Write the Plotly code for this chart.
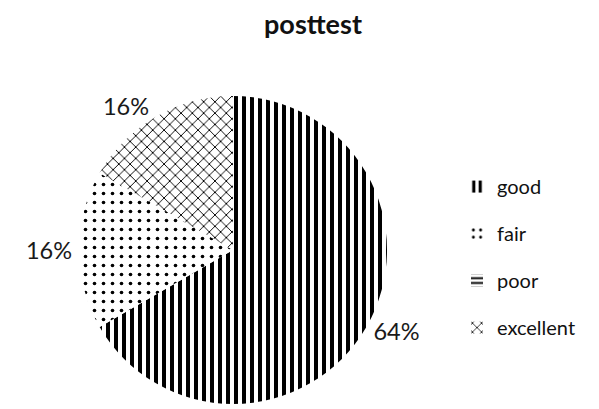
import plotly.graph_objects as go

categories = ["good", "fair", "poor", "excellent"]
values = [64, 16, 0, 16]
label_text = ["64%", "16%", "", "16%"]
patterns = ["|", ".", "-", "x"]
pattern_sizes = [8, 9, 6, 8]
pattern_solidity = [0.5, 0.13, 0.4, 0.22]

W, H = 599, 409
fig = go.Figure()
fig.add_trace(go.Pie(
    labels=categories,
    values=values,
    text=label_text,
    textinfo="text",
    textposition="outside",
    sort=False,
    direction="clockwise",
    rotation=0,
    hole=0,
    marker=dict(
        colors=["white"] * 4,
        line=dict(width=0),
        pattern=dict(shape=patterns, fgcolor="black", bgcolor="white",
                     fgopacity=1, size=pattern_sizes,
                     solidity=pattern_solidity, fillmode="overlay"),
    ),
    outsidetextfont=dict(family="Lato", size=23.5, color="#1a1a1a"),
    domain=dict(x=[77 / W, 389 / W], y=[0, 1]),
    showlegend=False,
))

# legend entries (empty traces carrying the same fill patterns)
for cat, shp, sz, so in zip(categories, patterns, pattern_sizes, pattern_solidity):
    fig.add_trace(go.Bar(
        x=[None], y=[None], name=cat, legendgroup=cat, showlegend=True,
        marker=dict(color="white", line=dict(width=0),
                    pattern=dict(shape=shp, fgcolor="black", bgcolor="white",
                                 fgopacity=1, size=sz, solidity=so,
                                 fillmode="overlay")),
    ))

fig.update_layout(
    width=W, height=H,
    margin=dict(l=0, r=0, t=96, b=1),
    paper_bgcolor="white", plot_bgcolor="white",
    xaxis=dict(visible=False), yaxis=dict(visible=False),
    title=dict(text="<b>posttest</b>", x=313 / W, xanchor="center",
               y=1 - 25 / H, yanchor="middle",
               font=dict(family="Lato", size=27, color="#111")),
    legend=dict(x=457 / W, xanchor="left", y=(408 - 168) / 312, yanchor="top",
                font=dict(family="Lato", size=20, color="#111"),
                traceorder="grouped", tracegroupgap=18,
                itemsizing="constant"),
)

fig.write_html("out.html")
